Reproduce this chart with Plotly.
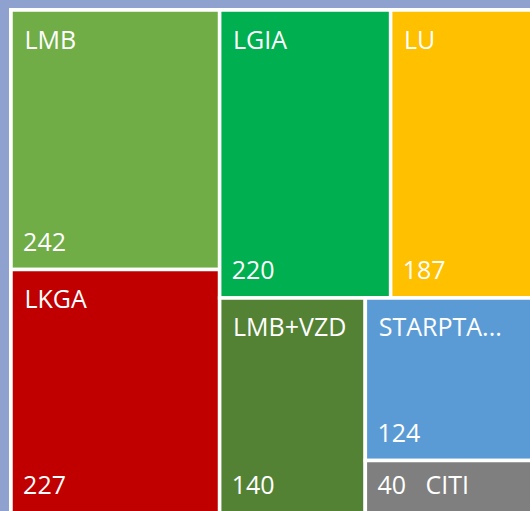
import plotly.graph_objects as go

# Leaf data
labels = ["LMB", "LKGA", "LGIA", "LU", "LMB+VZD", "STARPTA...", "CITI"]
values = [242, 227, 220, 187, 140, 124, 40]
colors = ["#70AD47", "#C00000", "#00B050", "#FFC000", "#548235", "#5B9BD5", "#7F7F7F"]
# grouping that reproduces the reference tiling
leaf_parent = ["c1", "c1", "top", "top", "bot", "rs", "rs"]

group_ids = ["root", "c1", "c2", "top", "bot", "rs"]
group_parents = ["", "root", "root", "c2", "c2", "bot"]

BG = "#8FA1CF"

# node order: groups before their own children, siblings in display order
order = ["root", "c1", 0, 1, "c2", "top", 2, 3, "bot", 4, "rs", 5, 6]
ids, parents, all_labels, all_values, all_colors, kinds = [], [], [], [], [], []
for o in order:
    if isinstance(o, str):
        k = group_ids.index(o)
        ids.append(o); parents.append(group_parents[k]); all_labels.append("")
        all_values.append(0); all_colors.append("#FFFFFF"); kinds.append(None)
    else:
        ids.append("L%d" % o); parents.append(leaf_parent[o]); all_labels.append(labels[o])
        all_values.append(values[o]); all_colors.append(colors[o]); kinds.append(labels[o])

NB = "\u00a0"
BIG = "<span style='font-size:25px'>%s</span>"
tmpl_label, tmpl_value = [], []
for k in kinds:
    if k is None:
        tmpl_label.append(""); tmpl_value.append("")
    elif k == "CITI":
        tmpl_label.append("")
        tmpl_value.append(NB + BIG % (NB + "%{value}" + NB * 3 + "%{label}") + "<br> ")
    else:
        tmpl_label.append(" <br>" + NB + BIG % (NB + "%{label}"))
        tmpl_value.append(NB + BIG % (NB + "%{value}") + "<br> ")

common = dict(
    ids=ids, parents=parents, labels=all_labels, values=all_values,
    branchvalues="remainder", sort=False,
    tiling=dict(packing="slice-dice", pad=0),
    pathbar=dict(visible=False),
    hoverinfo="skip",
)

fig = go.Figure()
fig.add_trace(go.Treemap(
    marker=dict(colors=all_colors, line=dict(color="#FFFFFF", width=3.5),
                pad=dict(t=0, l=0, r=0, b=0)),
    texttemplate=tmpl_label, textposition="top left",
    textfont=dict(family="Open Sans", size=15, color="#FFFFFF"),
    **common,
))
fig.add_trace(go.Treemap(
    marker=dict(colors=["rgba(0,0,0,0)"] * len(ids), line=dict(width=0),
                pad=dict(t=0, l=0, r=0, b=0)),
    texttemplate=tmpl_value, textposition="bottom left",
    textfont=dict(family="Open Sans", size=10, color="#FFFFFF"),
    **common,
))
fig.update_layout(
    width=536, height=513,
    margin=dict(l=11, t=10, r=0, b=0),
    paper_bgcolor=BG,
    showlegend=False,
)
fig.write_html(
    "out.html",
    config={"displayModeBar": False},
    post_script="document.body.style.margin='0';document.body.style.overflow='hidden';"
                "document.body.style.background='" + BG + "';",
)
